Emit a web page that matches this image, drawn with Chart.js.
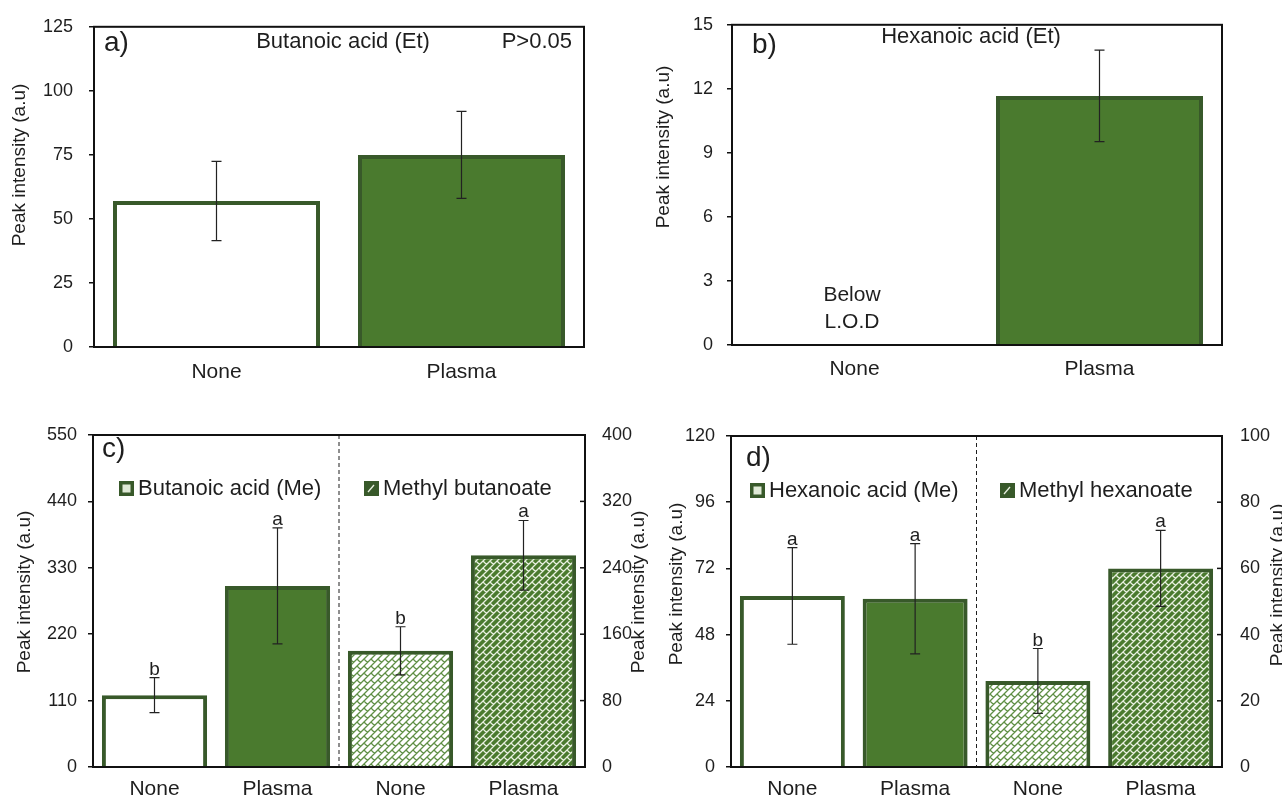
<!DOCTYPE html>
<html>
<head>
<meta charset="utf-8">
<script src="https://cdn.jsdelivr.net/npm/chart.js@4/dist/chart.umd.min.js"></script>
<style>
  body { margin: 0; background: #fff; width: 1282px; height: 799px; position: relative; overflow: hidden; }
  canvas { position: absolute; }
</style>
</head>
<body>
<canvas id="ca" width="640" height="400" style="left:0;top:0"></canvas>
<canvas id="cb" width="642" height="400" style="left:640px;top:0"></canvas>
<canvas id="cc" width="660" height="399" style="left:0;top:400px"></canvas>
<canvas id="cd" width="642" height="399" style="left:640px;top:400px"></canvas>
<script>
// categories
const treatments = ['None', 'Plasma'];
const treatments4 = ['None', 'Plasma', 'None', 'Plasma'];

// a) butanoic acid, ethyl esterification
const butanoicEt = [57, 75];
const butanoicEtErr = [15.5, 17];
// b) hexanoic acid (Et) - none below LOD
const hexanoicEt = [null, 11.67];
const hexanoicEtErr = [null, 2.14];
// c) butanoic acid (Me) / methyl butanoate
const butanoicMe = [119, 300, null, null];
const butanoicMeErr = [29, 96, null, null];
const methylButanoate = [null, null, 140, 255];
const methylButanoateErr = [null, null, 29, 42];
const lettersC = ['b', 'a', 'b', 'a'];
// d) hexanoic acid (Me) / methyl hexanoate
const hexanoicMe = [62, 61, null, null];
const hexanoicMeErr = [17.5, 20, null, null];
const methylHexanoate = [null, null, 26, 60];
const methylHexanoateErr = [null, null, 9.8, 11.5];
const lettersD = ['a', 'a', 'b', 'a'];

// tick labels
const ticksA = [0, 25, 50, 75, 100, 125];
const ticksB = [0, 3, 6, 9, 12, 15];
const ticksC = [0, 110, 220, 330, 440, 550];
const ticksC2 = [0, 80, 160, 240, 320, 400];
const ticksD = [0, 24, 48, 72, 96, 120];
const ticksD2 = [0, 20, 40, 60, 80, 100];

const GREEN = '#4a7a2e';
const DARK = '#38592a';
const INK = '#1e1e1e';
const FONT = '"Liberation Sans", Arial, sans-serif';

Chart.defaults.font.family = FONT;
Chart.defaults.color = INK;

// diagonal brick fill like the excel pattern
function brick(bg, fg) {
  const d = 7, S = 2 * d;
  const c = document.createElement('canvas');
  c.width = S; c.height = S;
  const g = c.getContext('2d');
  g.fillStyle = bg; g.fillRect(0, 0, S, S);
  g.strokeStyle = fg; g.lineWidth = 1.3;
  g.beginPath();
  for (let s = -2 * S; s <= 4 * S; s += d) {
    g.moveTo(s + S, -S); g.lineTo(s - 2 * S, 2 * S);
  }
  for (let k = -6; k <= 8; k++) {
    for (let cc = -3 * S; cc <= 3 * S; cc += S) {
      const c0 = cc + d * (((k % 2) + 2) % 2);
      g.moveTo((k * d + c0) / 2, (k * d - c0) / 2);
      g.lineTo(((k + 1) * d + c0) / 2, ((k + 1) * d - c0) / 2);
    }
  }
  g.stroke();
  return g.createPattern(c, 'repeat');
}
const brickLight = brick('#ffffff', '#5f8f45');
const brickDark = brick(GREEN, '#e8f0e0');

const decor = {
  id: 'decor',
  afterDatasetsDraw(chart, args, o) {
    const ctx = chart.ctx, a = chart.chartArea;
    ctx.save();
    if (o.divider) {
      const x = chart.scales.x.getPixelForValue(1.5);
      ctx.strokeStyle = INK; ctx.lineWidth = 1; ctx.setLineDash([4, 3]);
      ctx.beginPath(); ctx.moveTo(x, a.top); ctx.lineTo(x, a.bottom); ctx.stroke();
      ctx.setLineDash([]);
    }
    // error bars and letters
    chart.data.datasets.forEach((ds, i) => {
      const meta = chart.getDatasetMeta(i);
      const ys = chart.scales[meta.yAxisID];
      meta.data.forEach((el, j) => {
        const v = ds.data[j];
        if (v == null) return;
        const e = ds.errors[j];
        const top = ys.getPixelForValue(v + e), bot = ys.getPixelForValue(v - e);
        ctx.strokeStyle = '#222'; ctx.lineWidth = 1.2;
        ctx.beginPath();
        ctx.moveTo(el.x, top); ctx.lineTo(el.x, bot);
        ctx.moveTo(el.x - 5, top); ctx.lineTo(el.x + 5, top);
        ctx.moveTo(el.x - 5, bot); ctx.lineTo(el.x + 5, bot);
        ctx.stroke();
        if (o.letters) {
          ctx.fillStyle = INK; ctx.font = '19px ' + FONT;
          ctx.textAlign = 'center'; ctx.textBaseline = 'alphabetic';
          ctx.fillText(o.letters[j], el.x, top - 3);
        }
      });
    });
    // frame
    ctx.strokeStyle = '#111'; ctx.lineWidth = 2;
    ctx.strokeRect(a.left, a.top, a.right - a.left, a.bottom - a.top);
    // inward ticks on the right axis
    if (chart.scales.y1) {
      const s = chart.scales.y1;
      ctx.lineWidth = 1.5;
      s.ticks.forEach(t => {
        const y = s.getPixelForValue(t.value);
        ctx.beginPath(); ctx.moveTo(a.right - 5, y); ctx.lineTo(a.right, y); ctx.stroke();
      });
    }
    // free texts
    (o.texts || []).forEach(t => {
      ctx.fillStyle = INK; ctx.font = t.size + 'px ' + FONT;
      ctx.textAlign = t.align || 'left'; ctx.textBaseline = 'middle';
      ctx.fillText(t.text, t.x, t.y);
    });
    // rotated axis titles
    (o.titles || []).forEach(t => {
      ctx.save();
      ctx.translate(t.x, t.y); ctx.rotate(-Math.PI / 2);
      ctx.fillStyle = INK; ctx.font = '19px ' + FONT;
      ctx.textAlign = 'center'; ctx.textBaseline = 'middle';
      ctx.fillText('Peak intensity (a.u)', 0, 0);
      ctx.restore();
    });
    // in-plot legend
    (o.legend || []).forEach(l => {
      ctx.fillStyle = DARK; ctx.fillRect(l.x, l.y - 7, 15, 15);
      if (l.kind === 'plain') {
        ctx.fillStyle = '#dfe9d6'; ctx.fillRect(l.x + 3.5, l.y - 3.5, 8, 8);
      } else {
        ctx.strokeStyle = '#e8f0e0'; ctx.lineWidth = 1.3;
        ctx.beginPath(); ctx.moveTo(l.x + 4, l.y + 4); ctx.lineTo(l.x + 10, l.y - 3); ctx.stroke();
      }
      ctx.fillStyle = INK; ctx.font = '22px ' + FONT;
      ctx.textAlign = 'left'; ctx.textBaseline = 'middle';
      ctx.fillText(l.text, l.x + 19, l.y + 1);
    });
    ctx.restore();
  }
};

function yAxis(ticks, width, pad, position) {
  return {
    position: position || 'left',
    min: ticks[0], max: ticks[ticks.length - 1],
    afterBuildTicks: s => { s.ticks = ticks.map(v => ({ value: v })); },
    afterFit: s => { s.width = width; },
    grid: position === 'right'
      ? { display: false, drawTicks: false }
      : { drawOnChartArea: false, drawTicks: true, tickLength: 5, color: '#111', lineWidth: 1.5 },
    border: { display: false },
    ticks: { font: { size: 18 }, color: INK, padding: pad }
  };
}

function xAxis(height, pad) {
  return {
    afterFit: s => { s.height = height; },
    grid: { display: false, drawTicks: false },
    border: { display: false },
    ticks: { font: { size: 21 }, color: INK, padding: pad }
  };
}

function baseOptions(extra) {
  return Object.assign({
    responsive: false,
    animation: false,
    events: [],
    plugins: { legend: { display: false }, tooltip: { enabled: false } }
  }, extra);
}

// a)
new Chart(document.getElementById('ca'), {
  type: 'bar',
  data: {
    labels: treatments,
    datasets: [{
      data: butanoicEt, errors: butanoicEtErr,
      backgroundColor: ['#ffffff', GREEN], borderColor: DARK, borderWidth: 4,
      barPercentage: 0.845, categoryPercentage: 1
    }]
  },
  options: baseOptions({
    layout: { padding: { top: 22, right: 56, bottom: 0, left: 0 } },
    scales: { x: xAxis(53, 13), y: yAxis(ticksA, 94, 16) },
    plugins: {
      legend: { display: false }, tooltip: { enabled: false },
      decor: {
        texts: [
          { text: 'a)', x: 104, y: 43, size: 28 },
          { text: 'Butanoic acid (Et)', x: 343, y: 42, size: 22, align: 'center' },
          { text: 'P>0.05', x: 572, y: 42, size: 22, align: 'right' }
        ],
        titles: [{ x: 20, y: 165 }]
      }
    }
  }),
  plugins: [decor]
});

// b)
new Chart(document.getElementById('cb'), {
  type: 'bar',
  data: {
    labels: treatments,
    datasets: [{
      data: hexanoicEt, errors: hexanoicEtErr,
      backgroundColor: GREEN, borderColor: DARK, borderWidth: 4,
      barPercentage: 0.845, categoryPercentage: 1
    }]
  },
  options: baseOptions({
    layout: { padding: { top: 21, right: 60, bottom: 0, left: 0 } },
    scales: { x: xAxis(55, 12), y: yAxis(ticksB, 92, 14) },
    plugins: {
      legend: { display: false }, tooltip: { enabled: false },
      decor: {
        texts: [
          { text: 'b)', x: 112, y: 45, size: 28 },
          { text: 'Hexanoic acid (Et)', x: 331, y: 37, size: 22, align: 'center' },
          { text: 'Below', x: 212, y: 295, size: 21, align: 'center' },
          { text: 'L.O.D', x: 212, y: 322, size: 21, align: 'center' }
        ],
        titles: [{ x: 24, y: 147 }]
      }
    }
  }),
  plugins: [decor]
});

// c)
new Chart(document.getElementById('cc'), {
  type: 'bar',
  data: {
    labels: treatments4,
    datasets: [{
      data: butanoicMe, errors: butanoicMeErr, yAxisID: 'y', grouped: false,
      backgroundColor: ['#ffffff', GREEN], borderColor: DARK, borderWidth: 4,
      barPercentage: 0.855, categoryPercentage: 1
    }, {
      data: methylButanoate, errors: methylButanoateErr, yAxisID: 'y1', grouped: false,
      backgroundColor: [null, null, brickLight, brickDark], borderColor: DARK, borderWidth: 4,
      barPercentage: 0.855, categoryPercentage: 1
    }]
  },
  options: baseOptions({
    layout: { padding: { top: 35, right: 0, bottom: 0, left: 0 } },
    scales: {
      x: xAxis(32, 10),
      y: yAxis(ticksC, 93, 11),
      y1: yAxis(ticksC2, 75, 17, 'right')
    },
    plugins: {
      legend: { display: false }, tooltip: { enabled: false },
      decor: {
        divider: true,
        letters: lettersC,
        texts: [{ text: 'c)', x: 102, y: 49, size: 28 }],
        titles: [{ x: 25, y: 192 }, { x: 639, y: 192 }],
        legend: [
          { x: 119, y: 88, text: 'Butanoic acid (Me)', kind: 'plain' },
          { x: 364, y: 88, text: 'Methyl butanoate', kind: 'brick' }
        ]
      }
    }
  }),
  plugins: [decor]
});

// d)
new Chart(document.getElementById('cd'), {
  type: 'bar',
  data: {
    labels: treatments4,
    datasets: [{
      data: hexanoicMe, errors: hexanoicMeErr, yAxisID: 'y', grouped: false,
      backgroundColor: ['#ffffff', GREEN], borderColor: DARK, borderWidth: 4,
      barPercentage: 0.855, categoryPercentage: 1
    }, {
      data: methylHexanoate, errors: methylHexanoateErr, yAxisID: 'y1', grouped: false,
      backgroundColor: [null, null, brickLight, brickDark], borderColor: DARK, borderWidth: 4,
      barPercentage: 0.855, categoryPercentage: 1
    }]
  },
  options: baseOptions({
    layout: { padding: { top: 36, right: 0, bottom: 0, left: 0 } },
    scales: {
      x: xAxis(32, 10),
      y: yAxis(ticksD, 91, 11),
      y1: yAxis(ticksD2, 60, 18, 'right')
    },
    plugins: {
      legend: { display: false }, tooltip: { enabled: false },
      decor: {
        divider: true,
        letters: lettersD,
        texts: [{ text: 'd)', x: 106, y: 58, size: 28 }],
        titles: [{ x: 37, y: 184 }, { x: 638, y: 185 }],
        legend: [
          { x: 110, y: 90, text: 'Hexanoic acid (Me)', kind: 'plain' },
          { x: 360, y: 90, text: 'Methyl hexanoate', kind: 'brick' }
        ]
      }
    }
  }),
  plugins: [decor]
});
</script>
</body>
</html>
